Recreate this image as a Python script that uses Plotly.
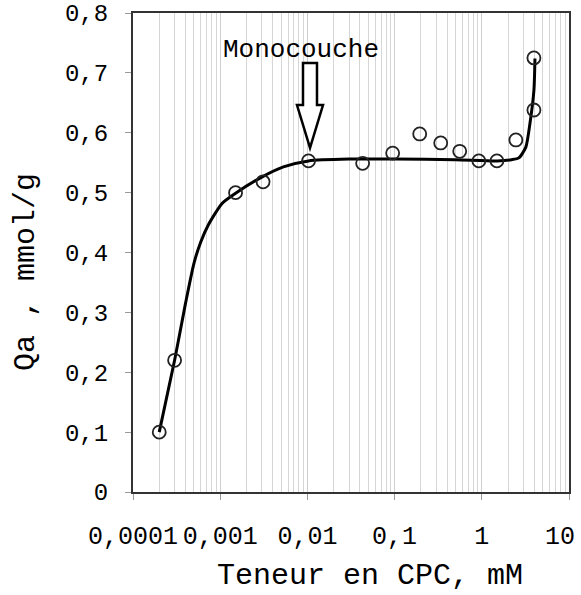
import math
import plotly.graph_objects as go

# Measured points (CPC content, mM ; Qa, mmol/g)
x_points = [0.0002, 0.0003, 0.0015, 0.0031, 0.0103, 0.043, 0.095, 0.194, 0.338, 0.558, 0.925, 1.49, 2.46, 3.96, 3.96]
y_points = [0.100, 0.220, 0.500, 0.518, 0.553, 0.549, 0.566, 0.598, 0.583, 0.569, 0.553, 0.553, 0.588, 0.638, 0.725]

# Fitted curve
x_curve = [0.0002, 0.0003, 0.0004, 0.0005, 0.0006, 0.00073, 0.00105, 0.0015, 0.003, 0.0053,
           0.0103, 0.03, 0.1, 0.5, 1.5, 2.2, 2.66, 3.2, 3.57, 3.96, 4.07]
y_curve = [0.100, 0.220, 0.315, 0.382, 0.418, 0.446, 0.482, 0.499, 0.526, 0.543,
           0.553, 0.556, 0.556, 0.555, 0.553, 0.555, 0.558, 0.576, 0.616, 0.671, 0.724]

x_tickvals = [0.0001, 0.001, 0.01, 0.1, 1, 10]
x_ticktext = ["0,0001", "0,001", "0,01", "0,1", "1", "10"]
y_tickvals = [0, 0.1, 0.2, 0.3, 0.4, 0.5, 0.6, 0.7, 0.8]
y_ticktext = ["0", "0,1", "0,2", "0,3", "0,4", "0,5", "0,6", "0,7", "0,8"]

MONO = "Courier New, Liberation Mono, monospace"

fig = go.Figure()
fig.add_trace(go.Scatter(x=x_curve, y=y_curve, mode="lines",
                         line=dict(color="black", width=3, shape="spline", smoothing=0.6),
                         showlegend=False, hoverinfo="skip"))
fig.add_trace(go.Scatter(x=x_points, y=y_points, mode="markers",
                         marker=dict(symbol="circle-open", size=13, color="#222", line=dict(width=1.8)),
                         showlegend=False))

L, R, T, B = 133, 12, 13, 103
W, H = 581, 595
pw, ph = W - L - R, H - T - B

def px(xp):
    return (xp - L) / pw

def py(yp):
    return (H - B - yp) / ph

# hollow block arrow pointing to the monolayer
pts = [(303, 63), (317, 63), (317, 105), (323, 105), (310, 148), (297, 105), (303, 105)]
path = "M " + " L ".join(f"{px(a):.4f},{py(b):.4f}" for a, b in pts) + " Z"
fig.add_shape(type="path", path=path, xref="paper", yref="paper",
              line=dict(color="black", width=2.5), fillcolor="white")

fig.add_annotation(text="Monocouche", x=px(301), y=py(50), xref="paper", yref="paper",
                   showarrow=False, font=dict(family=MONO, size=26, color="black"),
                   xanchor="center", yanchor="middle")
fig.add_annotation(text="Teneur en CPC, mM", x=px(370), y=py(576), xref="paper", yref="paper",
                   showarrow=False, font=dict(family=MONO, size=30, color="black"),
                   xanchor="center", yanchor="middle")
fig.add_annotation(text="Qa , mmol/g", x=px(26), y=py(272), xref="paper", yref="paper",
                   showarrow=False, textangle=-90, font=dict(family=MONO, size=30, color="black"),
                   xanchor="center", yanchor="middle")
# last x tick label, nudged left so it stays inside the page (as in the original)
fig.add_annotation(text=x_ticktext[-1], x=math.log10(x_tickvals[-1]), xref="x", y=py(537), yref="paper",
                   showarrow=False, font=dict(family=MONO, size=25, color="black"),
                   xanchor="right", yanchor="middle", xshift=8)

fig.update_layout(
    width=W, height=H,
    margin=dict(l=L, r=R, t=T, b=B, autoexpand=False),
    plot_bgcolor="white", paper_bgcolor="white",
    xaxis=dict(type="log", range=[-4, 1], tickvals=x_tickvals, ticktext=x_ticktext[:-1] + [""],
               showgrid=True, gridcolor="#cfcfcf", gridwidth=1,
               minor=dict(showgrid=True, gridcolor="#d6d6d6", dtick="D1", ticks=""),
               ticks="outside", ticklen=6, tickcolor="#999",
               showline=True, linecolor="#333", linewidth=2, mirror=True,
               tickfont=dict(family=MONO, size=25, color="black"), ticklabelstandoff=14,
               ticklabeloverflow="allow", automargin=False, zeroline=False),
    yaxis=dict(range=[0, 0.8], tickvals=y_tickvals, ticktext=y_ticktext,
               showgrid=False, ticks="outside", ticklen=6, tickcolor="#999",
               showline=True, linecolor="#333", linewidth=2, mirror=True,
               tickfont=dict(family=MONO, size=24, color="black"), ticklabelstandoff=12,
               automargin=False, zeroline=False),
)

fig.write_html("out.html", config={"displayModeBar": False},
               post_script="document.body.style.margin='0';document.body.style.overflow='hidden';")
